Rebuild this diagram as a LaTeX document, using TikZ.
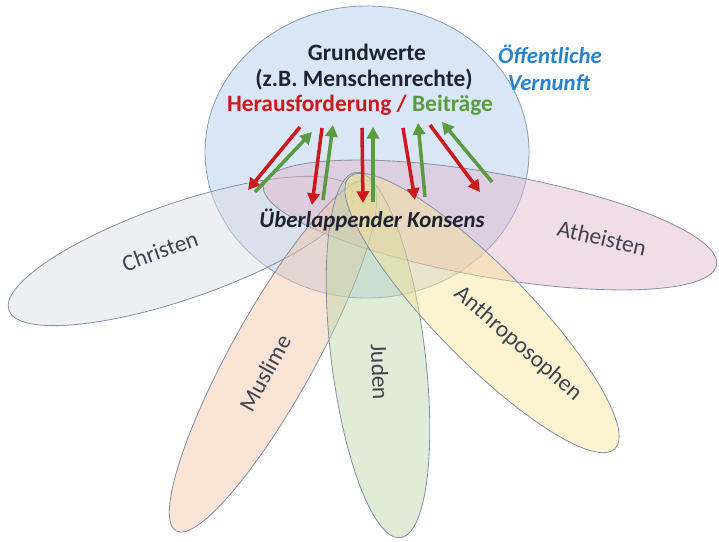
\documentclass[tikz,border=0pt]{standalone}
\usepackage{fontspec}
\setmainfont{Carlito}
\usetikzlibrary{arrows.meta}
\definecolor{kreisblau}{RGB}{180,205,235}
\definecolor{kreisrand}{RGB}{140,160,185}
\definecolor{blattrand}{RGB}{135,145,165}
\definecolor{christgrau}{RGB}{218,220,228}
\definecolor{atheistrosa}{RGB}{225,180,200}
\definecolor{muslimorange}{RGB}{245,195,165}
\definecolor{judengruen}{RGB}{185,215,165}
\definecolor{anthrogelb}{RGB}{252,228,150}
\definecolor{forderungrot}{RGB}{205,25,30}
\definecolor{beitraggruen}{RGB}{90,155,65}
\definecolor{vernunftblau}{RGB}{40,130,205}
\definecolor{textdunkel}{RGB}{30,35,50}
\tikzset{
    kreis/.style={draw=kreisrand, fill=kreisblau, fill opacity=0.5, line width=0.7pt},
    blatt/.style={draw=blattrand, fill opacity=0.45, line width=0.7pt},
    forderung/.style={draw=forderungrot, line width=3pt, -{Triangle[length=10pt,width=10.5pt]}},
    beitrag/.style={draw=beitraggruen, line width=3pt, -{Triangle[length=10pt,width=10.5pt]}},
    kopf/.style={font=\fontsize{20}{24}\selectfont\bfseries, text=textdunkel, anchor=base},
    schraeg/.style={kopf, font=\fontsize{19.5}{24}\selectfont\bfseries\itshape},
    etikett/.style={font=\fontsize{20}{24}\selectfont, text=textdunkel!85}
}

\begin{document}
\begin{tikzpicture}[x=0.03cm, y=-0.03cm]
    \useasboundingbox (0,0) rectangle (719,542);
    \draw[kreis] (367,152) ellipse [x radius=162, y radius=146];
    \draw[blatt, fill=christgrau, rotate around={19:(181,251)}] (181,251) ellipse [x radius=182, y radius=48];
    \draw[blatt, fill=atheistrosa, rotate around={-10:(490,225)}] (490,225) ellipse [x radius=230, y radius=52];
    \draw[blatt, fill=muslimorange, rotate around={61:(273,356)}] (273,356) ellipse [x radius=200, y radius=42];
    \draw[blatt, fill=judengruen, rotate around={-83:(378,355)}] (378,355) ellipse [x radius=184, y radius=47];
    \draw[blatt, fill=anthrogelb, rotate around={-45.6:(482,313)}] (482,313) ellipse [x radius=190, y radius=47];

    \node[etikett, rotate=20] (christen) at (160,251) {Christen};
    \node[etikett, rotate=-13.5] (atheisten) at (602,238) {Atheisten};
    \node[etikett, rotate=61] (muslime) at (265,373) {Muslime};
    \node[etikett, rotate=-88] (juden) at (380,372) {Juden};
    \node[etikett, rotate=-41] (anthro) at (518,344) {Anthroposophen};

    \node[kopf] (grundwerte) at (367,61) {Grundwerte};
    \node[kopf] (beispiel) at (364,87) {(z.B. Menschenrechte)};
    \node[kopf] (spannung) at (360,112) {\textcolor{forderungrot}{Herausforderung /} \textcolor{beitraggruen}{Beiträge}};
    \node[schraeg, text=vernunftblau] (oeffentlich) at (550,64) {Öffentliche};
    \node[schraeg, text=vernunftblau] (vernunft) at (549,91) {Vernunft};
    \node[schraeg] (konsens) at (372,228) {Überlappender Konsens};

    \foreach \n/\ax/\ay/\bx/\by/\cx/\cy/\dx/\dy in {
        1/300/127/248/190/255/192/312/132,
        2/322/128/312/205/323/200/333/125,
        3/362/128/363/203/373/202/373/127,
        4/403/128/415/200/425/197/418/123,
        5/430/125/480/192/492/182/442/122} {
        \coordinate (rotA\n) at (\ax,\ay);
        \coordinate (rotB\n) at (\bx,\by);
        \coordinate (gruenA\n) at (\cx,\cy);
        \coordinate (gruenB\n) at (\dx,\dy);
        \draw[forderung] (rotA\n) -- (rotB\n);
        \draw[beitrag] (gruenA\n) -- (gruenB\n);
    }
\end{tikzpicture}
\end{document}
